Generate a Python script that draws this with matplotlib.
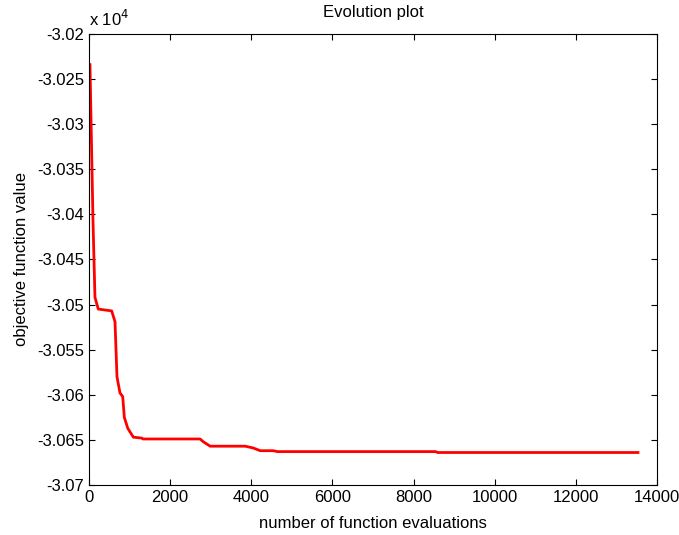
import matplotlib
matplotlib.use("Agg")
from matplotlib import pyplot as plt
from matplotlib.ticker import FormatStrFormatter
import numpy as np

plt.rcParams['font.family'] = ['Liberation Sans', 'DejaVu Sans']

# best objective value vs number of function evaluations
evals = [25, 99, 148, 230, 560, 642, 691, 765, 832, 872, 955, 1094, 1301, 1333,
         2740, 2815, 2988, 3852, 4049, 4222, 4543, 4642, 8543, 8593, 13531]
fvals = [-30234, -30406, -30492, -30505, -30507, -30519, -30580, -30598, -30602,
         -30625, -30637, -30647, -30648, -30649, -30649, -30652, -30657, -30657,
         -30659, -30662, -30662, -30663, -30663, -30664, -30664]

xticks = [0, 2000, 4000, 6000, 8000, 10000, 12000, 14000]
yticks = [-3.07, -3.065, -3.06, -3.055, -3.05, -3.045, -3.04, -3.035, -3.03, -3.025, -3.02]

fig = plt.figure(figsize=(6.79, 5.35), dpi=100)
ax = fig.add_axes([0.131, 0.0935, 0.8366, 0.843])

ax.plot(evals, np.array(fvals) / 1e4, color='red', lw=2)

ax.set_xlim(0, 14000)
ax.set_ylim(-3.07, -3.02)
ax.set_xticks(xticks)
ax.set_yticks(yticks)
ax.yaxis.set_major_formatter(FormatStrFormatter('%g'))
ax.tick_params(direction='in', top=True, right=True, length=4, width=0.8, labelsize=12)
for s in ax.spines.values():
    s.set_linewidth(0.8)

ax.set_title("Evolution plot", fontsize=12, pad=12)
ax.set_xlabel("number of function evaluations", fontsize=12, labelpad=8)
ax.set_ylabel("objective function value", fontsize=12, labelpad=6)
ax.text(0, 1.01, "x 10$^4$", transform=ax.transAxes, fontsize=12, va='bottom', ha='left')

fig.savefig("out.png", dpi=100)
